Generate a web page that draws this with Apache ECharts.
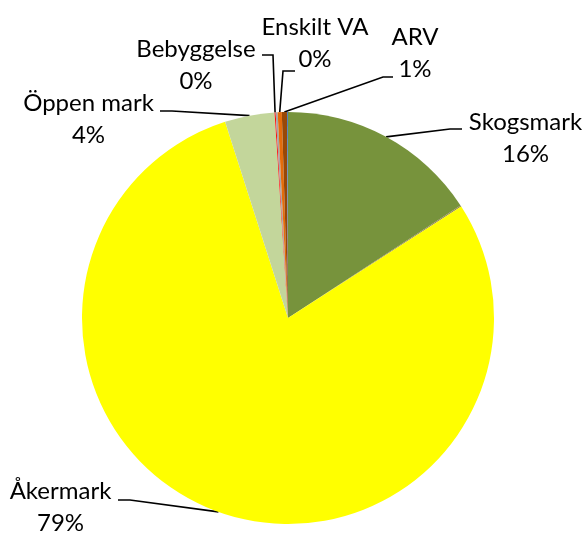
<!DOCTYPE html>
<html><head><meta charset="utf-8">
<script src="https://cdn.jsdelivr.net/npm/echarts@6/dist/echarts.min.js"></script>
<style>html,body{margin:0;padding:0;background:#fff}#c{width:587px;height:534px}</style>
</head><body><div id="c"></div><script>
// Data (clockwise from 12 o'clock)
const categories = ['Skogsmark', '', 'Åkermark', 'Öppen mark', 'Bebyggelse', '', 'Enskilt VA', 'ARV', ''];
const values = [15.8, 0.1, 79.16, 3.9, 0.08, 0.16, 0.32, 0.4, 0.08];
const percentLabels = ['16%', '', '79%', '4%', '0%', '', '0%', '1%', ''];
const colors = ['#77933C', '#948A54', '#FFFF00', '#C3D69B', '#FF0000', '#A6A6A6', '#E46C0A', '#984807', '#4F81BD'];

// Label placement (label box center, leader line end point, bend offset)
const labelPlacement = {
  0: {x: 525.5, y: 138, ex: 462, ey: 129, bend: -12},
  2: {x: 60.5, y: 507, ex: 118, ey: 500, bend: 12},
  3: {x: 88.5, y: 119, ex: 160, ey: 111, bend: 12},
  4: {x: 196, y: 65, ex: 262, ey: 55, bend: 11},
  6: {x: 315, y: 43.5, ex: 295, ey: 71, bend: -12},
  7: {x: 415, y: 53, ex: 393, ey: 77, bend: -10}
};

const chart = echarts.init(document.getElementById('c'), null, {renderer: 'canvas'});
const data = categories.map((name, i) => {
  const hasLabel = name !== '';
  return {
    name: name,
    value: values[i],
    itemStyle: {color: colors[i]},
    label: {show: hasLabel},
    labelLine: {show: hasLabel}
  };
});

chart.setOption({
  animation: false,
  backgroundColor: '#fff',
  series: [{
    type: 'pie',
    center: [288, 318],
    radius: 206,
    startAngle: 90,
    clockwise: true,
    avoidLabelOverlap: false,
    itemStyle: {borderWidth: 0},
    data: data,
    label: {
      position: 'outside',
      formatter: p => p.name + '\n' + percentLabels[p.dataIndex],
      fontFamily: 'Lato',
      fontSize: 24,
      lineHeight: 32,
      color: '#000',
      align: 'center'
    },
    labelLine: {
      show: true,
      length: 10,
      length2: 10,
      lineStyle: {color: '#000', width: 1.6}
    },
    labelLayout: function (p) {
      const pl = labelPlacement[p.dataIndex];
      if (!pl) return {};
      const res = {x: pl.x, y: pl.y, align: 'center', verticalAlign: 'middle'};
      if (p.labelLinePoints && p.labelLinePoints.length) {
        const start = p.labelLinePoints[0];
        res.labelLinePoints = [[start[0], start[1]], [pl.ex + pl.bend, pl.ey], [pl.ex, pl.ey]];
      }
      return res;
    }
  }]
});
</script></body></html>
